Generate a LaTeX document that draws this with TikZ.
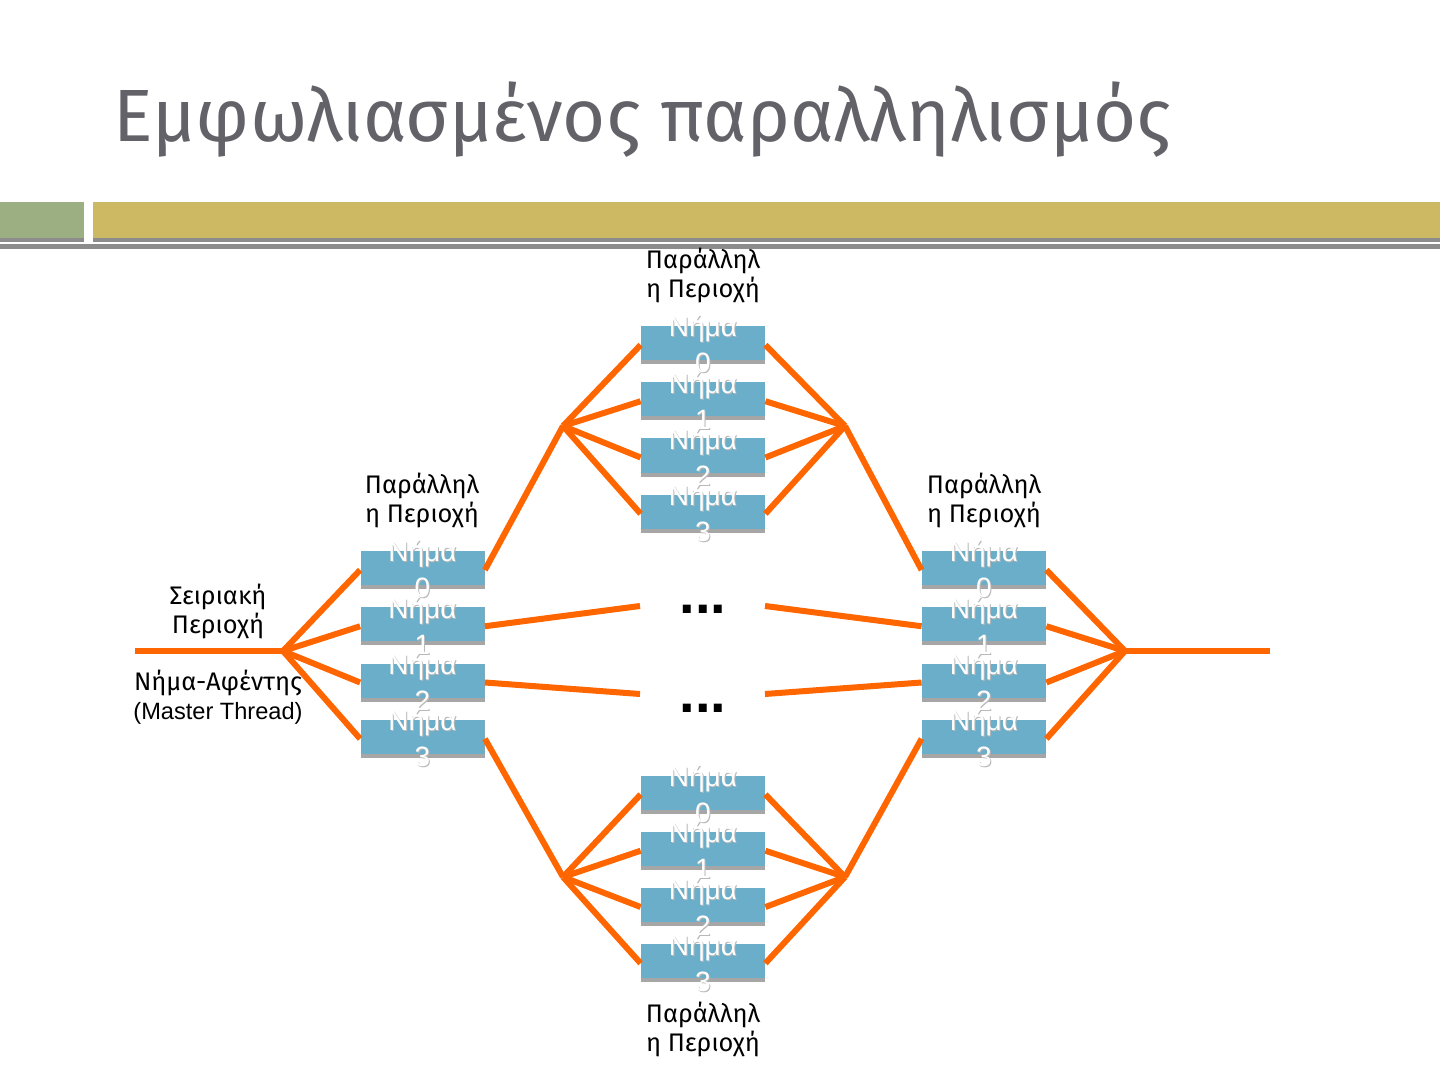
\documentclass[tikz,border=0pt]{standalone}
\usepackage{fontspec}
\setmainfont{Liberation Sans}
\newfontfamily\labelfont{Fira Sans}
\usetikzlibrary{positioning}
\definecolor{nimablue}{RGB}{106,174,201}
\definecolor{nimaedge}{RGB}{166,166,166}
\definecolor{nimashadow}{RGB}{185,185,185}
\definecolor{nimaorange}{RGB}{255,102,0}
\definecolor{titlegray}{RGB}{98,98,104}
\definecolor{bargreen}{RGB}{155,175,130}
\definecolor{bargold}{RGB}{205,185,100}
\definecolor{bargray}{RGB}{140,140,140}
\newcommand\skiatext[1]{\leavevmode\rlap{\color{nimashadow}\kern0.5pt\raisebox{-0.5pt}{#1}}#1}
\tikzset{
    nimabox/.style  = {rectangle, inner sep=0pt, minimum width=62pt, minimum height=19pt,
                       fill=nimaedge,
                       path picture={\fill[nimablue] (path picture bounding box.north west)
                           rectangle ([yshift=2pt]path picture bounding box.south east);}},
    nimatext/.style = {align=center, inner sep=0pt, text=white,
                       font=\fontsize{14}{18}\selectfont},
    link/.style     = {draw=nimaorange, line width=3pt},
    perioxi/.style  = {align=center, inner sep=0pt, font=\labelfont\fontsize{12.7}{14.5}\selectfont},
    teleies/.style  = {inner sep=0pt, anchor=base, font=\bfseries\fontsize{28}{28}\selectfont}
}
\begin{document}
\begin{tikzpicture}[x=0.5pt, y=-0.5pt]
    \fill[white] (0,0) rectangle (1440,1080);
    \useasboundingbox (0,0) rectangle (1440,1080);

    % --- Titel und Balken ---
    \node[anchor=base west, inner sep=0pt, text=titlegray,
          font=\labelfont\fontsize{37}{40}\selectfont] (titlos) at (113,142)
          {Εμφωλιασμένος παραλληλισμός};
    \fill[bargreen] (0,202) rectangle (84,238);
    \fill[bargray]  (0,238) rectangle (84,242);
    \fill[bargold]  (93,202) rectangle (1440,238);
    \fill[bargray]  (93,238) rectangle (1440,242);
    \fill[bargray]  (0,244) rectangle (1440,249);

    % --- Nimata ---
    \foreach \i in {0,...,3} {
        \node[nimabox] (L\i) at (422.5,{570+56.25*\i}) {};
        \node[nimabox] (R\i) at (984,{570+56.25*\i}) {};
        \node[nimabox] (T\i) at (703,{345+56.25*\i}) {};
        \node[nimabox] (B\i) at (703,{794.5+56.25*\i}) {};
        \node[nimatext] (Lt\i) at (L\i) {\skiatext{Νήμα}\\\skiatext{\i}};
        \node[nimatext] (Rt\i) at (R\i) {\skiatext{Νήμα}\\\skiatext{\i}};
        \node[nimatext] (Tt\i) at (T\i) {\skiatext{Νήμα}\\\skiatext{\i}};
        \node[nimatext] (Bt\i) at (B\i) {\skiatext{Νήμα}\\\skiatext{\i}};
    }

    % --- Verzweigungen ---
    \coordinate (arxi)  at (135,651);
    \coordinate (jl)    at (283,651);
    \coordinate (tl)    at (563,426);
    \coordinate (tr)    at (845,426);
    \coordinate (bl)    at (563,877);
    \coordinate (br)    at (845,877);
    \coordinate (jr)    at (1125,651);
    \coordinate (telos) at (1270,651);
    \coordinate (d1l)   at (640,606);
    \coordinate (d1r)   at (765,606);
    \coordinate (d2l)   at (640,694);
    \coordinate (d2r)   at (765,694);

    \draw[link] (arxi) -- (jl);
    \draw[link] (jr) -- (telos);
    \foreach \i in {0,...,3} {
        \draw[link] (jl) -- (L\i.west);
        \draw[link] (R\i.east) -- (jr);
        \draw[link] (tl) -- (T\i.west);
        \draw[link] (T\i.east) -- (tr);
        \draw[link] (bl) -- (B\i.west);
        \draw[link] (B\i.east) -- (br);
    }
    \draw[link] (L0.east) -- (tl);
    \draw[link] (tr) -- (R0.west);
    \draw[link] (L3.east) -- (bl);
    \draw[link] (br) -- (R3.west);
    \draw[link] (L1.east) -- (d1l);
    \draw[link] (d1r) -- (R1.west);
    \draw[link] (L2.east) -- (d2l);
    \draw[link] (d2r) -- (R2.west);

    \node[teleies] (dots1) at (703,613) {...};
    \node[teleies] (dots2) at (703,712) {...};

    % --- Beschriftungen ---
    \node[perioxi] (pT) at (703,275)  {Παράλληλ\\η Περιοχή};
    \node[perioxi] (pL) at (422,500)  {Παράλληλ\\η Περιοχή};
    \node[perioxi] (pR) at (984,500)  {Παράλληλ\\η Περιοχή};
    \node[perioxi] (pB) at (703,1029) {Παράλληλ\\η Περιοχή};
    \node[perioxi] (seiriaki) at (218,611) {Σειριακή\\Περιοχή};
    \node[perioxi] (afentis) at (218,697)
          {Νήμα-Αφέντης\\{\rmfamily\fontsize{11.8}{14.5}\selectfont (Master Thread)}};
\end{tikzpicture}
\end{document}
